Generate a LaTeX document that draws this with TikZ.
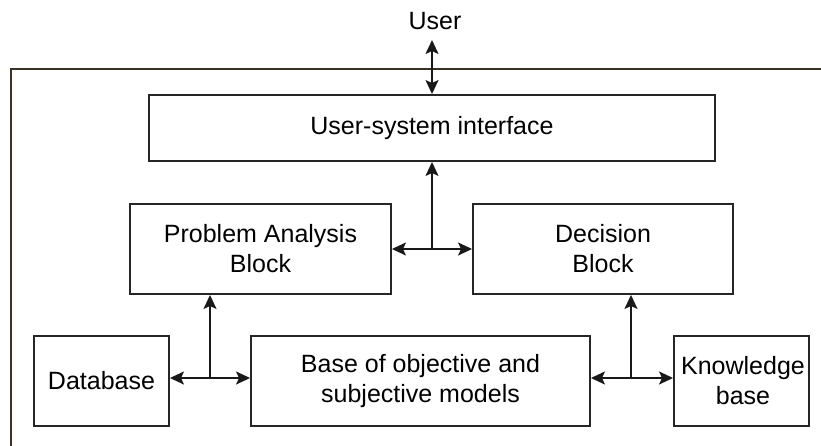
\documentclass[tikz,border=0pt]{standalone}
\usepackage{fontspec}
\setmainfont{Liberation Sans}
\usetikzlibrary{arrows.meta}
\definecolor{framecol}{HTML}{3A3226}
\begin{document}
\begin{tikzpicture}[x=1pt,y=-1pt,
  box/.style={draw=black!85, line width=1.9pt, inner sep=0pt, align=center,
    font=\fontsize{25}{30}\selectfont},
  lbl/.style={inner sep=0pt, align=center, font=\fontsize{25}{30}\selectfont},
  conn/.style={line width=1.8pt, black!90},
  tip/.style={-{Stealth[length=14pt,width=13pt,inset=3pt]}},
  tips/.style={{Stealth[length=14pt,width=13pt,inset=3pt]}-{Stealth[length=14pt,width=13pt,inset=3pt]}}
]
\useasboundingbox (0,0) rectangle (821,445);
% outer frame (partially visible)
\draw[framecol, line width=1.9pt] (823,69) -- (11,69) -- (11,447);

\node[lbl] (user) at (435,21) {User};
\node[box, minimum width=566pt, minimum height=66pt] (ui) at (432,128) {User-system interface};
\node[box, minimum width=261pt, minimum height=90pt] (pab) at (260.5,249) {Problem Analysis\\Block};
\node[box, minimum width=260pt, minimum height=90pt] (dec) at (603,249) {Decision\\Block};
\node[box, minimum width=135pt, minimum height=90pt] (db) at (101.5,381) {Database};
\node[box, minimum width=339pt, minimum height=90pt] (base) at (420.5,381) {Base of objective and\\subjective models};
\node[box, minimum width=135pt, minimum height=90pt] (kb) at (741.5,381) {};
\node[lbl] (kbt) at (743,381) {Knowledge\\base};

\coordinate (ut) at (432,40);
\coordinate (j1) at (432,249);
\coordinate (j2) at (210,378);
\coordinate (j3) at (631,378);

\draw[conn, tips] (ut) -- (ui.north);
\draw[conn, tip] (j1) -- (ui.south);
\draw[conn, tips] (pab.east |- j1) -- (dec.west |- j1);
\draw[conn, tip] (j2) -- (j2 |- pab.south);
\draw[conn, tips] (db.east |- j2) -- (base.west |- j2);
\draw[conn, tip] (j3) -- (j3 |- dec.south);
\draw[conn, tips] (base.east |- j3) -- (kb.west |- j3);
\end{tikzpicture}
\end{document}
